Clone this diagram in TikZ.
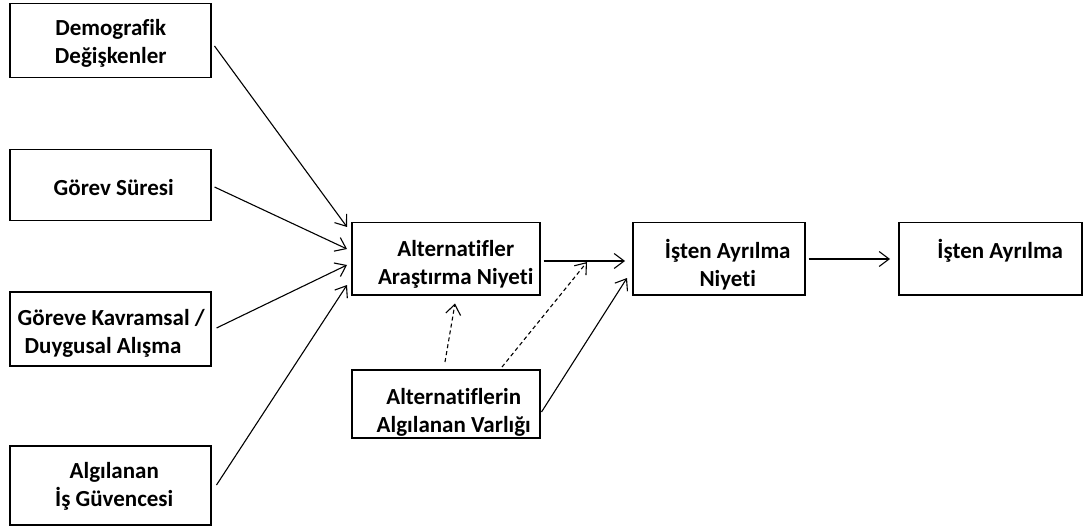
\documentclass[tikz,border=0pt]{standalone}
\usepackage{fontspec}
\setmainfont{Carlito}[Ligatures=NoCommon]
\usetikzlibrary{arrows.meta,calc}
\begin{document}
\begin{tikzpicture}[x=1pt,y=-1pt,
  box/.style={draw, line width=1.5pt, anchor=north west, inner sep=0pt},
  txt/.style={font=\fontsize{23}{28}\selectfont\bfseries, align=center, inner sep=0pt},
  link/.style={line width=1.1pt, -{Straight Barb[length=10pt,width=15pt,line width=1.1pt]}},
  hint/.style={link, dashed, dash pattern=on 4pt off 3pt}]
\useasboundingbox (0,0) rectangle (1083,529);

% input factors
\node[box, minimum width=201pt, minimum height=74pt,
  label={[txt, xshift=0.5pt, yshift=-3pt]center:{Demografik\\Değişkenler}}] (dem) at (9,3) {};
\node[box, minimum width=201pt, minimum height=71pt,
  label={[txt, xshift=3.5pt, yshift=-2.5pt]center:{Görev Süresi}}] (gor) at (9,149) {};
\node[box, minimum width=201pt, minimum height=74pt,
  label={[txt, align=left, xshift=1pt, yshift=-5pt]center:{Göreve Kavramsal /\\\hspace*{7pt}Duygusal Alışma}}] (kav) at (9,291) {};
\node[box, minimum width=201pt, minimum height=79pt,
  label={[txt, xshift=4pt, yshift=-1.5pt]center:{Algılanan\\İş Güvencesi}}] (guv) at (9,445) {};

% central constructs
\node[box, minimum width=188pt, minimum height=72pt,
  label={[txt, xshift=10pt, yshift=-6pt]center:{Alternatifler\\Araştırma Niyeti}}] (ara) at (351,222) {};
\node[box, minimum width=188pt, minimum height=68pt,
  label={[txt, xshift=8pt, yshift=-9pt]center:{Alternatiflerin\\Algılanan Varlığı}}] (var) at (351,369) {};
\node[box, minimum width=172pt, minimum height=72pt,
  label={[txt, xshift=9pt, yshift=-6pt]center:{İşten Ayrılma\\Niyeti}}] (niy) at (632,222) {};
\node[box, minimum width=183pt, minimum height=72pt,
  label={[txt, xshift=10pt, yshift=8pt]center:{İşten Ayrılma}}] (ayr) at (898,222) {};

% relations
\draw[link] ($(dem.north east)+(3,43)$) -- ($(ara.north west)+(-4,5)$);
\draw[link] ($(gor.north east)+(3,38)$) -- ($(ara.north west)+(-4,27)$);
\draw[link] ($(kav.north east)+(5,37)$) -- ($(ara.north west)+(-4,43)$);
\draw[link] ($(guv.north east)+(5,40)$) -- ($(ara.north west)+(-4,63)$);
\draw[link] ($(ara.north east)+(3,39)$) -- ($(niy.north west)+(-7,39)$);
\draw[link] ($(niy.north east)+(3,37)$) -- ($(ayr.north west)+(-8,37)$);
\draw[link] ($(var.north east)+(1,43)$) -- ($(niy.north west)+(-5,56)$);
\draw[hint] ($(var.north west)+(94,-7)$) -- ($(ara.south west)+(104,8)$);
\draw[hint] ($(var.north west)+(151,-2)$) -- ($(niy.north west)+(-45,40)$);
\end{tikzpicture}
\end{document}
